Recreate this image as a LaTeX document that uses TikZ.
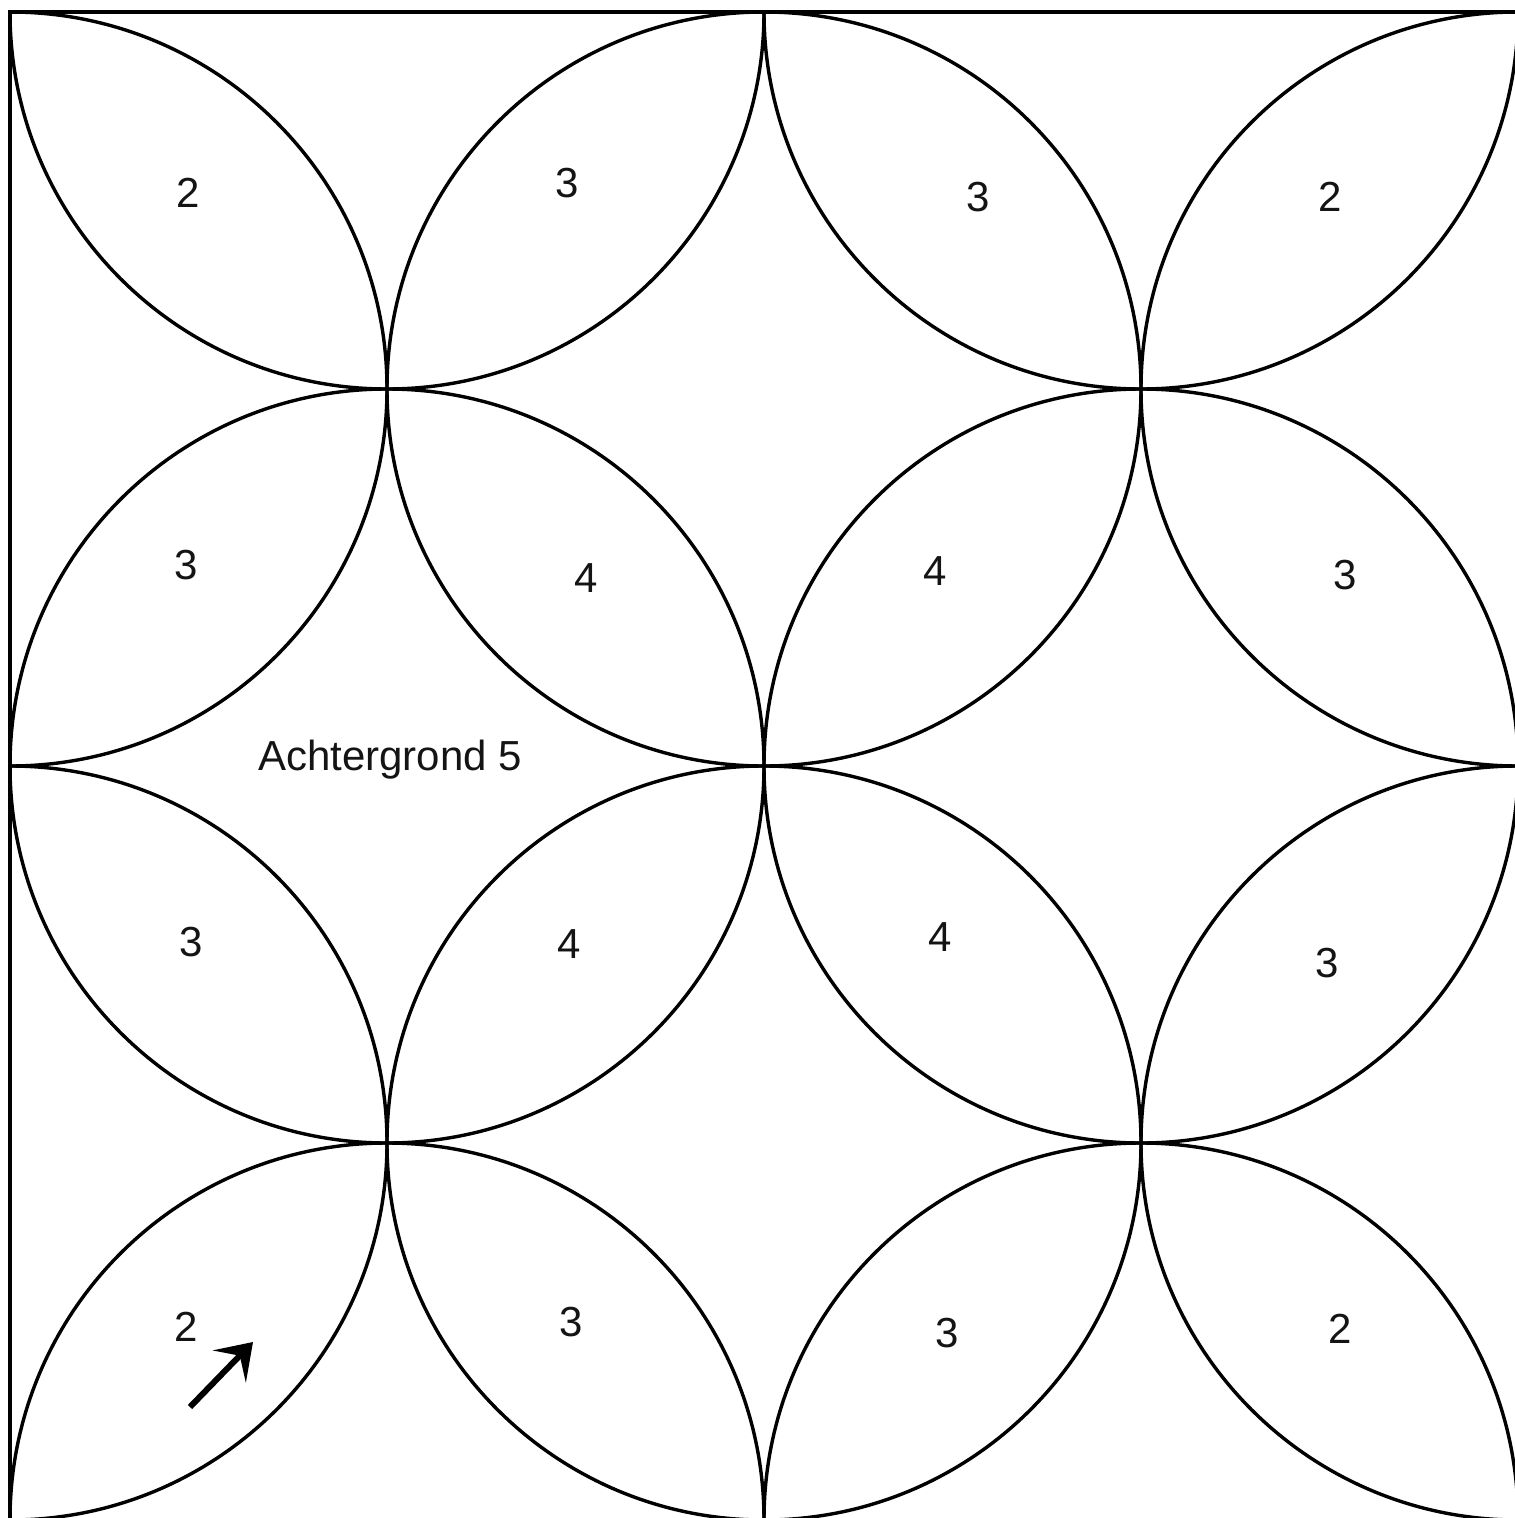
\documentclass[tikz,border=0pt]{standalone}
\usepackage{fontspec}
\setmainfont{Liberation Sans}
\usetikzlibrary{arrows.meta}
\begin{document}
\begin{tikzpicture}[x=1pt,y=-1pt,
  arc/.style={line width=3.4pt,black},
  lbl/.style={font=\fontsize{42}{50}\selectfont,text=black!92,inner sep=0pt},
  pointer/.style={line width=6pt,-{Stealth[length=34pt,width=46pt,inset=15pt]}}]
\useasboundingbox (0,0) rectangle (1515,1518);
\fill[white] (0,0) rectangle (1515,1518);
\begin{scope}
\clip (10,12) rectangle (1518,1520);
\foreach \i in {0,...,4}{
  \foreach \j in {0,...,4}{
    \pgfmathtruncatemacro{\myodd}{mod(\i+\j,2)}
    \ifnum\myodd=1
      \draw[arc] ({10+377*\i},{12+377*\j}) circle[radius=377];
    \fi
  }
}
\end{scope}
\draw[arc] (10,1520) -- (10,12) -- (1518,12);
% labels
\node[lbl] (l11) at (188,193) {2};
\node[lbl] (l12) at (567,183) {3};
\node[lbl] (l13) at (978,197) {3};
\node[lbl] (l14) at (1330,197) {2};
\node[lbl] (l21) at (186,565) {3};
\node[lbl] (l22) at (586,578) {4};
\node[lbl] (l23) at (935,571) {4};
\node[lbl] (l24) at (1345,575) {3};
\node[lbl] (l31) at (191,942) {3};
\node[lbl] (l32) at (569,944) {4};
\node[lbl] (l33) at (940,937) {4};
\node[lbl] (l34) at (1327,963) {3};
\node[lbl] (l41) at (186,1327) {2};
\node[lbl] (l42) at (571,1322) {3};
\node[lbl] (l43) at (947,1333) {3};
\node[lbl] (l44) at (1340,1329) {2};
\node[lbl] (bg) at (390,760) {Achtergrond 5};
% arrow
\coordinate (as) at (190,1407);
\coordinate (ae) at (253,1342);
\draw[pointer] (as) -- (ae);
\end{tikzpicture}
\end{document}
